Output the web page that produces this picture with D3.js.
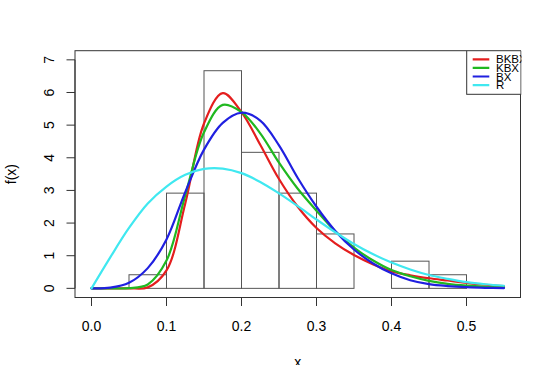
<!DOCTYPE html>
<html>
<head>
<meta charset="utf-8">
<script src="https://cdn.jsdelivr.net/npm/d3@7"></script>
<style>
  html, body { margin: 0; padding: 0; background: #fff; }
  svg { display: block; }
  text { font-family: "Liberation Sans", Arial, Helvetica, sans-serif; fill: #000; }
</style>
</head>
<body>
<script>
// ---- data ----
const binStarts = [0.05, 0.10, 0.15, 0.20, 0.25, 0.30, 0.35, 0.40, 0.45];
const binWidth = 0.05;
const binDensity = [0.417, 2.917, 6.667, 4.167, 2.917, 1.667, 0, 0.833, 0.417];

const xGrid = [0, 0.025, 0.05, 0.075, 0.1, 0.125, 0.15, 0.175, 0.2, 0.225, 0.25, 0.275,
               0.3, 0.325, 0.35, 0.375, 0.4, 0.425, 0.45, 0.475, 0.5, 0.525, 0.55];
const densBKBX = [0, 0, 0.002, 0.03, 0.55, 2.6, 5.05, 5.98, 5.4, 4.4, 3.35, 2.5,
                  1.85, 1.38, 1.02, 0.74, 0.52, 0.4, 0.31, 0.24, 0.17, 0.11, 0.07];
const densKBX  = [0, 0, 0.005, 0.12, 0.85, 2.85, 4.78, 5.62, 5.4, 4.75, 3.85, 3.05,
                  2.38, 1.75, 1.25, 0.86, 0.56, 0.37, 0.23, 0.14, 0.085, 0.05, 0.03];
const densBX   = [0, 0.02, 0.17, 0.62, 1.5, 2.95, 4.25, 5.07, 5.38, 5.14, 4.38, 3.38,
                  2.5, 1.76, 1.19, 0.77, 0.46, 0.25, 0.13, 0.07, 0.035, 0.017, 0.008];
const densR    = [0, 0.95, 1.85, 2.6, 3.12, 3.48, 3.66, 3.67, 3.53, 3.26, 2.91, 2.52,
                  2.11, 1.72, 1.36, 1.05, 0.79, 0.58, 0.41, 0.29, 0.19, 0.125, 0.08];

const seriesNames = ["BKBX", "KBX", "BX", "R"];
const seriesColors = ["#e41e1e", "#20b820", "#2020e0", "#40e8f0"];
const seriesValues = [densBKBX, densKBX, densBX, densR];

const xTicks = [0, 0.1, 0.2, 0.3, 0.4, 0.5];
const yTicks = [0, 1, 2, 3, 4, 5, 6, 7];

// ---- layout ----
const W = 559, H = 365;
const L = 75, R = 520.5, T = 50.7, B = 297.5;

const x = d3.scaleLinear().domain([-0.022, 0.572]).range([L, R]);
const y = d3.scaleLinear().domain([-0.28, 7.28]).range([B, T]);

const svg = d3.select("body").append("svg").attr("width", W).attr("height", H);
svg.append("rect").attr("width", W).attr("height", H).attr("fill", "#fff");

svg.append("defs").append("clipPath").attr("id", "plotclip")
  .append("rect").attr("x", L).attr("y", T).attr("width", R - L + 1).attr("height", B - T);

// histogram
svg.append("g").selectAll("rect").data(binStarts).join("rect")
  .attr("x", d => x(d))
  .attr("y", (d, i) => y(binDensity[i]))
  .attr("width", d => x(d + binWidth) - x(d))
  .attr("height", (d, i) => y(0) - y(binDensity[i]))
  .attr("fill", "none")
  .attr("stroke", "#555")
  .attr("stroke-width", 1);

// curves
const line = d3.line().x((d, i) => x(xGrid[i])).y(d => y(Math.max(0, d)))
  .curve(d3.curveCatmullRom.alpha(0.5));
svg.append("g").attr("clip-path", "url(#plotclip)")
  .selectAll("path").data(seriesValues).join("path")
  .attr("d", d => line(d))
  .attr("fill", "none")
  .attr("stroke", (d, i) => seriesColors[i])
  .attr("stroke-width", 2.2)
  .attr("stroke-linejoin", "round")
  .attr("stroke-linecap", "round");

// plot box
svg.append("rect").attr("x", L).attr("y", T).attr("width", R - L).attr("height", B - T)
  .attr("fill", "none").attr("stroke", "#333").attr("stroke-width", 1);

// x axis (R style)
const gx = svg.append("g");
gx.append("line").attr("x1", x(xTicks[0])).attr("x2", x(xTicks[xTicks.length - 1]))
  .attr("y1", B).attr("y2", B).attr("stroke", "#333");
gx.selectAll("line.t").data(xTicks).join("line").attr("class", "t")
  .attr("x1", d => x(d)).attr("x2", d => x(d)).attr("y1", B).attr("y2", B + 8.5)
  .attr("stroke", "#333");
gx.selectAll("text").data(xTicks).join("text")
  .attr("x", d => x(d)).attr("y", 330.5).attr("text-anchor", "middle")
  .attr("font-size", 14).text(d => d3.format(".1f")(d));

// y axis (R style)
const gy = svg.append("g");
gy.append("line").attr("x1", L).attr("x2", L)
  .attr("y1", y(yTicks[0])).attr("y2", y(yTicks[yTicks.length - 1])).attr("stroke", "#333");
gy.selectAll("line.t").data(yTicks).join("line").attr("class", "t")
  .attr("x1", L).attr("x2", L - 8.5).attr("y1", d => y(d)).attr("y2", d => y(d))
  .attr("stroke", "#333");
gy.selectAll("text").data(yTicks).join("text")
  .attr("transform", d => `translate(53.5,${y(d)}) rotate(-90)`)
  .attr("text-anchor", "middle").attr("font-size", 14).text(d => d);

// axis titles
svg.append("text").attr("x", (L + R) / 2).attr("y", 367).attr("text-anchor", "middle")
  .attr("font-size", 14).text("x");
svg.append("text").attr("transform", `translate(16,${(T + B) / 2}) rotate(-90)`)
  .attr("text-anchor", "middle").attr("font-size", 14).text("f(x)");

// legend
const lg = svg.append("g").attr("clip-path", "url(#plotclip)");
const lx0 = 466.7, ly0 = 50.7, lx1 = 521, ly1 = 94.3;
lg.append("rect").attr("x", lx0).attr("y", ly0).attr("width", lx1 - lx0).attr("height", ly1 - ly0)
  .attr("fill", "#fff").attr("stroke", "#333").attr("stroke-width", 1);
const rowY = i => 59.3 + i * 8.6;
lg.selectAll("line").data(seriesNames).join("line")
  .attr("x1", 472.7).attr("x2", 489.3)
  .attr("y1", (d, i) => rowY(i)).attr("y2", (d, i) => rowY(i))
  .attr("stroke", (d, i) => seriesColors[i]).attr("stroke-width", 2.2);
lg.selectAll("text").data(seriesNames).join("text")
  .attr("x", 496).attr("y", (d, i) => rowY(i) + 4)
  .attr("font-size", 11.5).text(d => d);
</script>
</body>
</html>
